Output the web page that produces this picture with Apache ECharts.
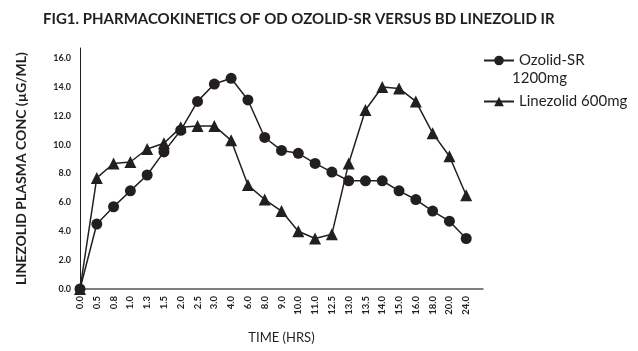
<!DOCTYPE html>
<html>
<head>
<meta charset="utf-8">
<script src="https://cdn.jsdelivr.net/npm/echarts@6/dist/echarts.min.js"></script>
<style>
  html, body { margin: 0; padding: 0; background: #fff; }
  #main { width: 638px; height: 351px; }
</style>
</head>
<body>
<div id="main"></div>
<script>
// time points (hrs); last empty slot only extends the axis line
const hours = ['0.0', '0.5', '0.8', '1.0', '1.3', '1.5', '2.0', '2.5', '3.0', '4.0', '6.0', '8.0',
  '9.0', '10.0', '11.0', '12.5', '13.0', '13.5', '14.0', '15.0', '16.0', '18.0', '20.0', '24.0', '']

const ozolidSR = [0, 4.5, 5.7, 6.8, 7.9, 9.5, 11.0, 13.0, 14.2, 14.6, 13.1, 10.5,
  9.6, 9.4, 8.7, 8.1, 7.5, 7.5, 7.5, 6.8, 6.2, 5.4, 4.7, 3.5, null]

const linezolid = [0, 7.7, 8.7, 8.8, 9.7, 10.1, 11.2, 11.3, 11.3, 10.3, 7.2, 6.2,
  5.4, 4.0, 3.5, 3.8, 8.7, 12.4, 14.0, 13.9, 13.0, 10.8, 9.2, 6.5, null]

const font = 'Lato'
const ink = '#231f20'
const ozName = 'Ozolid-SR 1200mg'
const lzName = 'Linezolid 600mg'

const chart = echarts.init(document.getElementById('main'))

const option = {
  animation: false,
  title: {
    text: 'FIG1. PHARMACOKINETICS OF OD OZOLID-SR VERSUS BD LINEZOLID IR',
    left: 38,
    top: 7,
    textStyle: { fontFamily: font, fontSize: 15, fontWeight: 'bold', color: ink },
  },
  legend: {
    orient: 'vertical',
    left: 478,
    top: 48,
    itemWidth: 30,
    itemHeight: 12,
    itemGap: 26,
    textStyle: { fontFamily: font, fontSize: 15, color: ink },
    data: [ozName, lzName],
    // second line of the first entry is drawn below as plain text
    formatter: (name) => (name === ozName ? 'Ozolid-SR' : name),
  },
  graphic: [
    {
      type: 'text',
      left: 512,
      top: 71,
      style: { text: '1200mg', font: '15px Lato', fill: ink },
    },
  ],
  grid: { left: 80, right: 155, top: 48, bottom: 62 },
  xAxis: {
    type: 'category',
    data: hours,
    boundaryGap: false,
    name: 'TIME (HRS)',
    nameLocation: 'middle',
    nameGap: 42,
    nameTextStyle: { fontFamily: font, fontSize: 13, color: ink },
    axisLine: { lineStyle: { color: '#555', width: 1.5 } },
    axisTick: { show: false },
    axisLabel: {
      rotate: 90,
      interval: 0,
      margin: 7,
      fontFamily: font,
      fontSize: 9.5,
      fontWeight: 'bold',
      color: ink,
    },
  },
  yAxis: {
    type: 'value',
    min: 0,
    max: 16.7,
    interval: 2,
    name: 'LINEZOLID PLASMA CONC (µG/ML)',
    nameLocation: 'middle',
    nameGap: 52,
    nameTextStyle: { fontFamily: font, fontSize: 14, fontWeight: 'bold', color: ink },
    axisLine: { show: true, lineStyle: { color: ink, width: 1 } },
    axisTick: { show: false },
    splitLine: { show: false },
    axisLabel: {
      margin: 9,
      fontFamily: font,
      fontSize: 9,
      fontWeight: 'bold',
      color: ink,
      formatter: (v) => (v % 2 === 0 ? v.toFixed(1) : ''),
    },
  },
  series: [
    {
      name: ozName,
      type: 'line',
      data: ozolidSR,
      symbol: 'circle',
      symbolSize: 11,
      lineStyle: { color: ink, width: 1.5 },
      itemStyle: { color: ink },
    },
    {
      name: lzName,
      type: 'line',
      data: linezolid,
      symbol: 'triangle',
      symbolSize: 12,
      lineStyle: { color: ink, width: 1.5 },
      itemStyle: { color: ink },
    },
  ],
}

chart.setOption(option)
</script>
</body>
</html>
